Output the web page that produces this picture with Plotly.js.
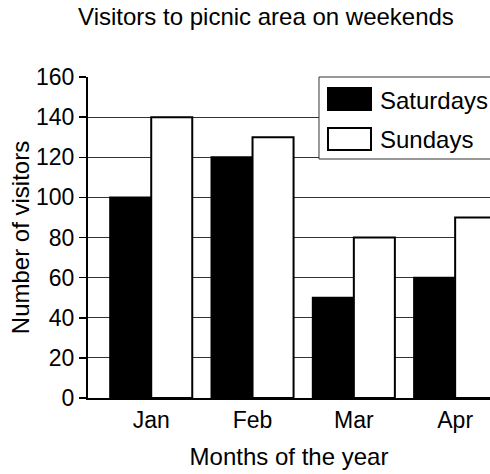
<!DOCTYPE html>
<html>
<head>
<meta charset="utf-8">
<script src="https://cdn.plot.ly/plotly-3.0.1.min.js"></script>
<style>html,body{margin:0;padding:0;background:#fff;}#chart{width:490px;height:474px;}</style>
</head>
<body>
<div id="chart"></div>
<script>
const months = ["Jan", "Feb", "Mar", "Apr"];
const saturdays = [100, 120, 50, 60];
const sundays = [140, 130, 80, 90];
const yTicks = [0, 20, 40, 60, 80, 100, 120, 140, 160];
const seriesNames = ["Saturdays", "Sundays"];

const FONT = "Liberation Sans, Arial, Helvetica, sans-serif";

const traces = [
  {
    type: "bar", name: seriesNames[0], x: months, y: saturdays,
    marker: {color: "#000000", line: {color: "#000000", width: 2}},
    showlegend: false, hoverinfo: "skip"
  },
  {
    type: "bar", name: seriesNames[1], x: months, y: sundays,
    marker: {color: "#ffffff", line: {color: "#000000", width: 2}},
    showlegend: false, hoverinfo: "skip"
  }
];

// legend drawn as shapes/annotations (paper coordinates)
const legendShapes = [
  {type: "rect", xref: "paper", yref: "paper", x0: 0.5746, x1: 1.2, y0: 0.7445, y1: 1.0,
   fillcolor: "#ffffff", line: {color: "#333333", width: 1}, layer: "above"},
  {type: "rect", xref: "paper", yref: "paper", x0: 0.597, x1: 0.704, y0: 0.8972, y1: 0.9657,
   fillcolor: "#000000", line: {color: "#000000", width: 2}, layer: "above"},
  {type: "rect", xref: "paper", yref: "paper", x0: 0.597, x1: 0.704, y0: 0.7726, y1: 0.8411,
   fillcolor: "#ffffff", line: {color: "#000000", width: 2}, layer: "above"}
];
const legendAnnotations = [
  {xref: "paper", yref: "paper", x: 0.722, y: 0.928, xanchor: "left", yanchor: "middle",
   text: seriesNames[0], showarrow: false, font: {family: FONT, size: 24, color: "#000"}},
  {xref: "paper", yref: "paper", x: 0.722, y: 0.804, xanchor: "left", yanchor: "middle",
   text: seriesNames[1], showarrow: false, font: {family: FONT, size: 24, color: "#000"}}
];

const layout = {
  width: 490, height: 474,
  margin: {l: 88, r: 0, t: 77, b: 76, pad: 0},
  paper_bgcolor: "#ffffff", plot_bgcolor: "#ffffff",
  font: {family: FONT, color: "#000000", size: 22},
  title: {
    text: "Visitors to picnic area on weekends",
    x: 266 / 490, xanchor: "center", xref: "container",
    y: 1 - 17 / 474, yanchor: "middle", yref: "container",
    font: {family: FONT, size: 24, color: "#000"}
  },
  barmode: "group", bargap: 0.19, bargroupgap: 0,
  xaxis: {
    type: "category", range: [-0.624, 3.344],
    showline: true, linecolor: "#000", linewidth: 2,
    ticks: "", showgrid: false, zeroline: false,
    tickfont: {family: FONT, size: 23, color: "#000"},
    title: {text: "Months of the year", standoff: 17, font: {family: FONT, size: 24, color: "#000"}},
    automargin: false, fixedrange: true
  },
  yaxis: {
    range: [0, 160], tickvals: yTicks, ticktext: yTicks.map(String), tickmode: "array",
    showline: true, linecolor: "#000", linewidth: 2,
    ticks: "outside", ticklen: 7, tickwidth: 1.5, tickcolor: "#000",
    showgrid: true, gridcolor: "#333333", gridwidth: 1, zeroline: false,
    tickfont: {family: FONT, size: 23, color: "#000"},
    title: {text: "Number of visitors", standoff: 0, font: {family: FONT, size: 24, color: "#000"}},
    automargin: false, fixedrange: true
  },
  shapes: legendShapes,
  annotations: legendAnnotations,
  showlegend: false
};

Plotly.newPlot("chart", traces, layout, {staticPlot: true, displayModeBar: false});
</script>
</body>
</html>
